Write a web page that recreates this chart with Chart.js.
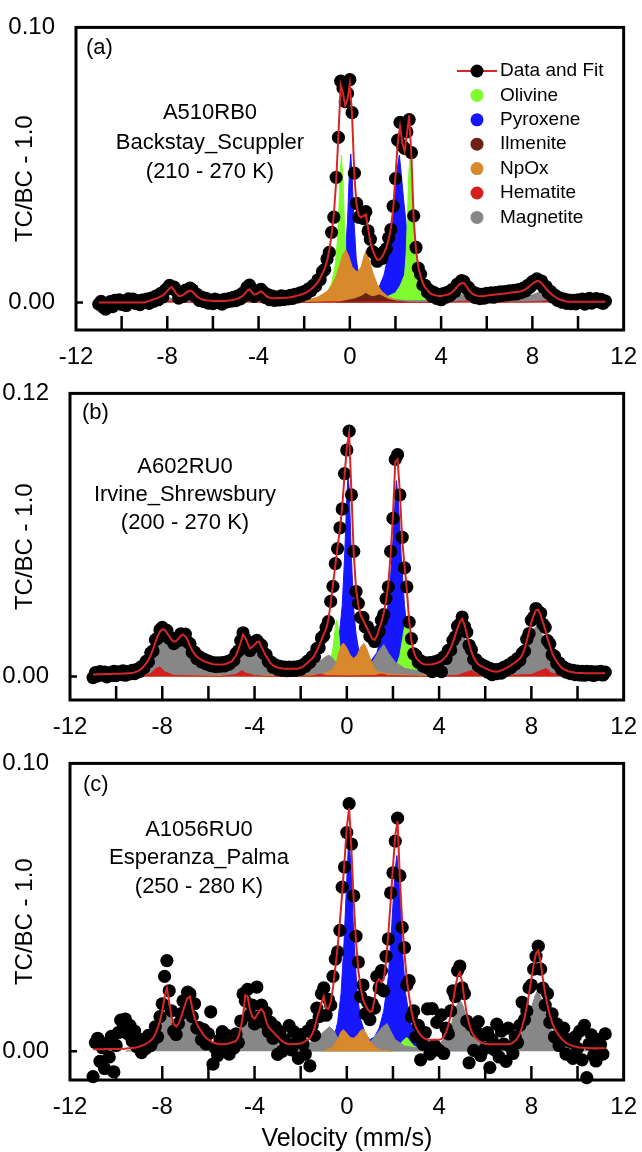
<!DOCTYPE html>
<html>
<head>
<meta charset="utf-8">
<title>Mossbauer spectra</title>
<script src="https://cdn.jsdelivr.net/npm/chart.js@4.4.1/dist/chart.umd.min.js"></script>
<style>
  body { margin: 0; background: #fff; }
  .panel { position: absolute; left: 0; width: 642px; }
</style>
</head>
<body>
<div class="panel" style="top:0;height:366px"><canvas id="panelA"></canvas></div>
<div class="panel" style="top:366px;height:370px"><canvas id="panelB"></canvas></div>
<div class="panel" style="top:736px;height:416px"><canvas id="panelC"></canvas></div>
<script>
// velocity channels (mm/s), shared by the three spectra
const velocity = [
  -11.0,-10.9,-10.8,-10.7,-10.6,-10.5,-10.4,-10.3,-10.2,-10.1,
  -10.0,-9.9,-9.8,-9.7,-9.6,-9.5,-9.4,-9.3,-9.2,-9.1,
  -9.0,-8.9,-8.8,-8.7,-8.6,-8.5,-8.4,-8.3,-8.2,-8.1,
  -8.0,-7.9,-7.8,-7.7,-7.6,-7.5,-7.4,-7.3,-7.2,-7.1,
  -7.0,-6.9,-6.8,-6.7,-6.6,-6.5,-6.4,-6.3,-6.2,-6.1,
  -6.0,-5.9,-5.8,-5.7,-5.6,-5.5,-5.4,-5.3,-5.2,-5.1,
  -5.0,-4.9,-4.8,-4.7,-4.6,-4.5,-4.4,-4.3,-4.2,-4.1,
  -4.0,-3.9,-3.8,-3.7,-3.6,-3.5,-3.4,-3.3,-3.2,-3.1,
  -3.0,-2.9,-2.8,-2.7,-2.6,-2.5,-2.4,-2.3,-2.2,-2.1,
  -2.0,-1.9,-1.8,-1.7,-1.6,-1.5,-1.4,-1.3,-1.2,-1.1,
  -1.0,-0.9,-0.8,-0.7,-0.6,-0.5,-0.4,-0.3,-0.2,-0.1,
  0.0,0.1,0.2,0.3,0.4,0.5,0.6,0.7,0.8,0.9,
  1.0,1.1,1.2,1.3,1.4,1.5,1.6,1.7,1.8,1.9,
  2.0,2.1,2.2,2.3,2.4,2.5,2.6,2.7,2.8,2.9,
  3.0,3.1,3.2,3.3,3.4,3.5,3.6,3.7,3.8,3.9,
  4.0,4.1,4.2,4.3,4.4,4.5,4.6,4.7,4.8,4.9,
  5.0,5.1,5.2,5.3,5.4,5.5,5.6,5.7,5.8,5.9,
  6.0,6.1,6.2,6.3,6.4,6.5,6.6,6.7,6.8,6.9,
  7.0,7.1,7.2,7.3,7.4,7.5,7.6,7.7,7.8,7.9,
  8.0,8.1,8.2,8.3,8.4,8.5,8.6,8.7,8.8,8.9,
  9.0,9.1,9.2,9.3,9.4,9.5,9.6,9.7,9.8,9.9,
  10.0,10.1,10.2,10.3,10.4,10.5,10.6,10.7,10.8,10.9,
  11.0,11.1,11.2
];

const xTicks = [-12, -8, -4, 0, 4, 8, 12];
const minorTicks = [-10, -8, -6, -4, -2, 0, 2, 4, 6, 8, 10];
const yTicksA = [0, 0.10];
const yTicksB = [0, 0.12];
const yTicksC = [0, 0.10];

const legendNames = ['Data and Fit', 'Olivine', 'Pyroxene', 'Ilmenite', 'NpOx', 'Hematite', 'Magnetite'];
const notesA = ['A510RB0', 'Backstay_Scuppler', '(210 - 270 K)'];
const notesB = ['A602RU0', 'Irvine_Shrewsbury', '(200 - 270 K)'];
const notesC = ['A1056RU0', 'Esperanza_Palma', '(250 - 280 K)'];

// ---- (a) A510RB0 ----
const countsA = [
  -0.0006,0.0004,-0.0018,-0.0024,-0.0009,0.0003,-0.0015,0.0008,-0.0004,0.0010,
  -0.0007,0.0002,-0.0011,0.0013,0.0001,0.0012,-0.0003,0.0006,-0.0008,0.0009,
  0.0004,0.0012,-0.0003,0.0016,0.0004,0.0023,0.0010,0.0032,0.0020,0.0044,
  0.0051,0.0062,0.0050,0.0056,0.0042,0.0016,0.0033,0.0022,0.0045,0.0033,
  0.0052,0.0046,0.0024,0.0030,0.0008,0.0020,0.0003,0.0015,-0.0002,0.0009,
  -0.0004,0.0012,0.0000,0.0008,-0.0006,0.0011,0.0002,0.0014,0.0005,0.0019,
  0.0007,0.0024,0.0013,0.0034,0.0026,0.0056,0.0063,0.0046,0.0022,0.0039,
  0.0030,0.0048,0.0039,0.0018,0.0029,0.0010,0.0023,0.0008,0.0020,0.0009,
  0.0024,0.0011,0.0022,0.0013,0.0026,0.0015,0.0030,0.0020,0.0034,0.0026,
  0.0040,0.0032,0.0050,0.0043,0.0062,0.0060,0.0082,0.0083,0.0112,0.0120,
  0.0158,0.0182,0.0255,0.0310,0.0455,0.0600,0.0805,0.0780,0.0730,0.0760,
  0.0810,0.0690,0.0470,0.0360,0.0310,0.0320,0.0305,0.0330,0.0260,0.0230,
  0.0185,0.0178,0.0150,0.0162,0.0160,0.0185,0.0195,0.0235,0.0265,0.0350,
  0.0450,0.0590,0.0655,0.0570,0.0560,0.0620,0.0665,0.0545,0.0315,0.0200,
  0.0125,0.0103,0.0064,0.0062,0.0038,0.0044,0.0022,0.0036,0.0015,0.0029,
  0.0010,0.0032,0.0019,0.0038,0.0026,0.0048,0.0040,0.0066,0.0060,0.0080,
  0.0076,0.0052,0.0055,0.0029,0.0038,0.0018,0.0031,0.0014,0.0030,0.0016,
  0.0033,0.0020,0.0035,0.0019,0.0036,0.0024,0.0039,0.0026,0.0040,0.0028,
  0.0042,0.0030,0.0044,0.0031,0.0047,0.0036,0.0052,0.0042,0.0062,0.0056,
  0.0076,0.0070,0.0086,0.0072,0.0078,0.0054,0.0058,0.0034,0.0040,0.0020,
  0.0026,0.0008,0.0017,0.0001,0.0012,-0.0003,0.0009,-0.0004,0.0008,-0.0005,
  0.0010,0.0000,0.0012,-0.0006,0.0007,0.0015,-0.0002,0.0009,0.0014,0.0002,
  0.0011,-0.0003,0.0005
];
const fitA = [
  0,0,0,0,0,0,0,0,0,0,
  0,0,0,0,0,0,0,0,0,0,
  0,0.0003,0.0005,0.0008,0.0012,0.0014,0.0017,0.0021,0.0026,0.0033,
  0.0042,0.0052,0.0056,0.0045,0.0031,0.0024,0.0024,0.0028,0.0034,0.0040,
  0.0043,0.0040,0.0031,0.0022,0.0016,0.0012,0.0010,0.0008,0.0007,0.0006,
  0.0005,0.0005,0.0005,0.0005,0.0005,0.0005,0.0006,0.0007,0.0008,0.0010,
  0.0012,0.0015,0.0019,0.0024,0.0032,0.0043,0.0048,0.0038,0.0029,0.0030,
  0.0036,0.0040,0.0035,0.0026,0.0020,0.0017,0.0015,0.0015,0.0015,0.0016,
  0.0016,0.0017,0.0017,0.0018,0.0019,0.0021,0.0023,0.0025,0.0027,0.0030,
  0.0033,0.0037,0.0042,0.0048,0.0055,0.0064,0.0075,0.0088,0.0105,0.0125,
  0.0150,0.0190,0.0245,0.0320,0.0440,0.0610,0.0790,0.0760,0.0715,0.0740,
  0.0795,0.0680,0.0460,0.0350,0.0315,0.0310,0.0315,0.0320,0.0270,0.0220,
  0.0190,0.0170,0.0155,0.0155,0.0165,0.0180,0.0200,0.0230,0.0270,0.0340,
  0.0460,0.0580,0.0640,0.0580,0.0550,0.0610,0.0680,0.0530,0.0300,0.0190,
  0.0130,0.0095,0.0070,0.0055,0.0045,0.0035,0.0030,0.0027,0.0025,0.0024,
  0.0024,0.0025,0.0027,0.0029,0.0033,0.0039,0.0047,0.0057,0.0066,0.0071,
  0.0070,0.0060,0.0047,0.0037,0.0030,0.0026,0.0024,0.0023,0.0023,0.0024,
  0.0025,0.0026,0.0027,0.0028,0.0029,0.0030,0.0031,0.0032,0.0033,0.0034,
  0.0035,0.0036,0.0037,0.0038,0.0039,0.0041,0.0044,0.0048,0.0054,0.0061,
  0.0068,0.0074,0.0078,0.0077,0.0070,0.0060,0.0050,0.0041,0.0033,0.0026,
  0.0020,0.0015,0.0011,0.0008,0.0006,0.0004,0.0003,0.0003,0.0003,0.0003,
  0.0003,0.0003,0.0003,0.0003,0.0003,0.0003,0.0003,0.0003,0.0003,0.0003,
  0.0003,0.0003,0.0003
];
const olivineA = [[-2.0,0],[-1.4,0.0015],[-1.0,0.0035],[-0.8,0.007],[-0.65,0.013],[-0.55,0.022],[-0.48,0.034],[-0.42,0.047],[-0.37,0.0535],[-0.3,0.045],[-0.24,0.030],[-0.16,0.016],[-0.05,0.009],[0.3,0.004],[0.8,0.002],[1.6,0.002],[2.0,0.0035],[2.2,0.006],[2.4,0.010],[2.47,0.018],[2.53,0.033],[2.59,0.048],[2.64,0.0525],[2.7,0.047],[2.77,0.034],[2.85,0.020],[2.95,0.012],[3.1,0.006],[3.6,0.002],[4.5,0]];
const pyroxeneA = [[-1.2,0],[-0.7,0.003],[-0.45,0.006],[-0.3,0.010],[-0.2,0.016],[-0.1,0.030],[-0.02,0.047],[0.04,0.054],[0.1,0.046],[0.18,0.030],[0.28,0.016],[0.4,0.009],[0.6,0.005],[1.0,0.004],[1.3,0.006],[1.5,0.010],[1.7,0.018],[1.85,0.028],[2.0,0.041],[2.1,0.050],[2.17,0.0536],[2.25,0.047],[2.35,0.038],[2.5,0.026],[2.65,0.016],[2.8,0.009],[3.0,0.005],[3.3,0.002],[3.8,0]];
const ilmeniteA = [[-0.6,0],[-0.2,0.0006],[0.2,0.0013],[0.5,0.0022],[0.7,0.0033],[0.85,0.0025],[1.0,0.0021],[1.15,0.0024],[1.3,0.0028],[1.45,0.0022],[1.7,0.0011],[2.1,0.0004],[2.6,0]];
const npoxA = [[-2.2,0],[-1.4,0.002],[-1.0,0.004],[-0.8,0.006],[-0.6,0.0095],[-0.45,0.0135],[-0.3,0.0175],[-0.17,0.019],[-0.05,0.017],[0.1,0.013],[0.25,0.0115],[0.35,0.0112],[0.5,0.013],[0.62,0.0168],[0.72,0.019],[0.85,0.0155],[1.0,0.011],[1.2,0.0065],[1.4,0.004],[1.7,0.002],[2.3,0]];
const hematiteA = [[-9.0,0],[-8.4,0.0003],[-8.1,0.0006],[-7.8,0.0004],[-7.3,0.0002],[-6.6,0],[-5.0,0],[-4.7,0.0003],[-4.4,0.0005],[-4.1,0.0002],[-3.5,0],[-1.5,0.0001],[-0.9,0.0003],[0,0.0001],[1.5,0.0003],[3.0,0],[4.6,0.0002],[5.1,0.0005],[5.6,0.0002],[6.5,0],[8.1,0.0003],[8.6,0.0006],[9.1,0.0002],[9.8,0]];
const magnetiteA = [[-9.2,0],[-8.5,0.0003],[-8.15,0.0010],[-7.9,0.0017],[-7.7,0.0011],[-7.45,0.0006],[-7.15,0.0011],[-7.0,0.0013],[-6.8,0.0007],[-6.3,0.0002],[-5.2,0.0002],[-4.7,0.0008],[-4.45,0.0017],[-4.25,0.0009],[-4.05,0.0008],[-3.9,0.0012],[-3.7,0.0007],[-3.0,0.0004],[-2.0,0.0006],[-1.4,0.0012],[-1.0,0.0018],[-0.75,0.0022],[-0.5,0.0016],[0.0,0.0010],[0.8,0.0010],[1.35,0.0016],[1.6,0.0019],[1.9,0.0012],[2.6,0.0006],[3.6,0.0008],[4.5,0.0015],[4.85,0.0028],[5.0,0.0032],[5.2,0.0019],[5.6,0.0009],[6.5,0.0008],[7.5,0.0014],[8.0,0.0028],[8.25,0.0036],[8.5,0.0025],[8.9,0.0010],[9.5,0.0002],[10.0,0]];

// ---- (b) A602RU0 ----
const countsB = [
  -0.0005,0.0016,0.0002,0.0020,0.0006,0.0018,-0.0002,0.0015,0.0004,0.0022,
  0.0003,0.0019,0.0008,0.0024,0.0005,0.0020,0.0011,0.0026,0.0012,0.0030,
  0.0020,0.0042,0.0036,0.0064,0.0062,0.0100,0.0108,0.0155,0.0162,0.0198,
  0.0208,0.0190,0.0195,0.0162,0.0163,0.0139,0.0158,0.0152,0.0180,0.0170,
  0.0179,0.0146,0.0138,0.0102,0.0103,0.0076,0.0084,0.0062,0.0073,0.0053,
  0.0065,0.0046,0.0059,0.0042,0.0058,0.0043,0.0059,0.0045,0.0062,0.0052,
  0.0070,0.0068,0.0098,0.0108,0.0152,0.0185,0.0158,0.0148,0.0110,0.0133,
  0.0128,0.0153,0.0140,0.0132,0.0098,0.0092,0.0063,0.0062,0.0039,0.0049,
  0.0030,0.0043,0.0026,0.0040,0.0024,0.0039,0.0025,0.0040,0.0026,0.0042,
  0.0030,0.0049,0.0043,0.0065,0.0060,0.0084,0.0083,0.0118,0.0122,0.0163,
  0.0172,0.0208,0.0232,0.0318,0.0382,0.0478,0.0542,0.0630,0.0710,0.0860,
  0.0960,0.1040,0.0770,0.0530,0.0360,0.0310,0.0250,0.0250,0.0210,0.0210,
  0.0170,0.0168,0.0148,0.0178,0.0192,0.0238,0.0262,0.0330,0.0380,0.0530,
  0.0670,0.0920,0.0940,0.0770,0.0590,0.0460,0.0380,0.0230,0.0160,0.0096,
  0.0088,0.0060,0.0066,0.0044,0.0058,0.0036,0.0059,0.0020,0.0062,0.0046,
  0.0068,0.0020,0.0083,0.0076,0.0110,0.0112,0.0153,0.0168,0.0213,0.0222,
  0.0252,0.0212,0.0188,0.0132,0.0113,0.0072,0.0071,0.0044,0.0053,0.0031,
  0.0043,0.0018,0.0034,0.0008,0.0029,0.0012,0.0030,0.0014,0.0038,0.0026,
  0.0048,0.0036,0.0061,0.0052,0.0076,0.0068,0.0098,0.0107,0.0158,0.0182,
  0.0238,0.0252,0.0288,0.0275,0.0268,0.0222,0.0208,0.0152,0.0138,0.0092,
  0.0086,0.0055,0.0058,0.0030,0.0039,0.0018,0.0030,0.0012,0.0026,0.0008,
  0.0023,0.0006,0.0022,0.0005,0.0021,0.0007,0.0020,0.0004,0.0019,0.0009,
  0.0021,0.0006,0.0018
];
const fitB = [
  0.0008,0.0008,0.0009,0.0009,0.0009,0.0010,0.0010,0.0010,0.0010,0.0011,
  0.0011,0.0011,0.0011,0.0012,0.0012,0.0013,0.0013,0.0014,0.0017,0.0021,
  0.0026,0.0033,0.0043,0.0055,0.0070,0.0090,0.0115,0.0145,0.0170,0.0190,
  0.0200,0.0198,0.0185,0.0170,0.0155,0.0147,0.0150,0.0160,0.0172,0.0177,
  0.0170,0.0155,0.0130,0.0110,0.0095,0.0084,0.0076,0.0070,0.0065,0.0061,
  0.0058,0.0055,0.0052,0.0050,0.0050,0.0050,0.0051,0.0052,0.0055,0.0059,
  0.0063,0.0075,0.0090,0.0115,0.0145,0.0177,0.0165,0.0140,0.0118,0.0125,
  0.0135,0.0145,0.0147,0.0125,0.0105,0.0085,0.0070,0.0055,0.0047,0.0042,
  0.0038,0.0036,0.0034,0.0033,0.0032,0.0032,0.0032,0.0033,0.0033,0.0034,
  0.0037,0.0041,0.0050,0.0058,0.0067,0.0076,0.0090,0.0110,0.0130,0.0155,
  0.0180,0.0200,0.0240,0.0310,0.0390,0.0470,0.0550,0.0620,0.0720,0.0850,
  0.0970,0.1030,0.0780,0.0520,0.0370,0.0300,0.0260,0.0240,0.0220,0.0200,
  0.0180,0.0160,0.0155,0.0170,0.0200,0.0230,0.0270,0.0320,0.0390,0.0520,
  0.0680,0.0910,0.0920,0.0780,0.0580,0.0470,0.0370,0.0240,0.0150,0.0105,
  0.0080,0.0068,0.0058,0.0053,0.0050,0.0050,0.0051,0.0052,0.0054,0.0057,
  0.0060,0.0066,0.0075,0.0085,0.0100,0.0120,0.0145,0.0175,0.0205,0.0230,
  0.0244,0.0220,0.0180,0.0140,0.0105,0.0080,0.0063,0.0052,0.0045,0.0040,
  0.0035,0.0030,0.0026,0.0023,0.0021,0.0020,0.0022,0.0026,0.0030,0.0035,
  0.0040,0.0046,0.0053,0.0060,0.0068,0.0076,0.0090,0.0115,0.0150,0.0190,
  0.0230,0.0260,0.0280,0.0283,0.0260,0.0230,0.0200,0.0160,0.0130,0.0100,
  0.0078,0.0063,0.0050,0.0038,0.0031,0.0026,0.0022,0.0020,0.0018,0.0016,
  0.0015,0.0014,0.0014,0.0013,0.0013,0.0013,0.0013,0.0013,0.0013,0.0013,
  0.0013,0.0013,0.0013
];
const olivineB = [[-1.6,0],[-1.1,0.0015],[-0.9,0.003],[-0.7,0.007],[-0.6,0.012],[-0.52,0.019],[-0.45,0.024],[-0.38,0.021],[-0.3,0.013],[-0.2,0.008],[0.0,0.004],[0.5,0.002],[1.5,0.002],[2.0,0.004],[2.2,0.006],[2.3,0.009],[2.42,0.016],[2.5,0.021],[2.58,0.023],[2.66,0.020],[2.76,0.013],[2.9,0.007],[3.1,0.004],[3.5,0.002],[4.2,0]];
const pyroxeneB = [[-1.6,0],[-1.0,0.003],[-0.7,0.006],[-0.5,0.010],[-0.4,0.014],[-0.3,0.020],[-0.2,0.030],[-0.1,0.050],[0.0,0.076],[0.05,0.085],[0.1,0.080],[0.2,0.050],[0.3,0.028],[0.4,0.018],[0.5,0.012],[0.7,0.007],[1.0,0.006],[1.3,0.010],[1.5,0.017],[1.7,0.024],[1.85,0.035],[2.0,0.058],[2.1,0.076],[2.15,0.083],[2.25,0.072],[2.35,0.052],[2.5,0.030],[2.65,0.017],[2.8,0.010],[3.0,0.006],[3.3,0.003],[4.0,0.001],[5.0,0]];
const npoxB = [[-9.0,0.0003],[-2.0,0.0004],[-1.0,0.001],[-0.6,0.003],[-0.45,0.006],[-0.35,0.010],[-0.22,0.0135],[-0.13,0.014],[0.0,0.012],[0.15,0.009],[0.3,0.0076],[0.45,0.009],[0.6,0.0125],[0.74,0.014],[0.85,0.012],[1.0,0.008],[1.15,0.004],[1.3,0.002],[1.8,0.001],[3.0,0.0004],[9.0,0.0003]];
const hematiteB = [[-9.0,0],[-8.5,0.0012],[-8.25,0.0035],[-8.1,0.004],[-7.9,0.002],[-7.5,0.0005],[-7.0,0.0003],[-5.5,0],[-4.8,0.0008],[-4.55,0.0025],[-4.4,0.0015],[-4.0,0.0004],[-3.5,0],[-1.5,0.0002],[-1.15,0.0010],[-0.9,0.0004],[0,0.0002],[1.2,0.0004],[1.5,0.0010],[1.8,0.0004],[3.5,0],[4.8,0.0005],[5.2,0.0018],[5.4,0.0025],[5.6,0.0012],[6.2,0.0002],[8.0,0.0008],[8.5,0.0028],[8.65,0.0034],[8.85,0.0015],[9.3,0.0003],[10.0,0]];
const magnetiteB = [[-11.0,0],[-9.5,0.0005],[-9.0,0.0015],[-8.7,0.0035],[-8.5,0.006],[-8.3,0.010],[-8.1,0.0145],[-7.95,0.016],[-7.8,0.015],[-7.6,0.0125],[-7.45,0.012],[-7.3,0.013],[-7.1,0.014],[-6.95,0.013],[-6.8,0.010],[-6.6,0.007],[-6.3,0.0045],[-6.0,0.0035],[-5.5,0.003],[-5.0,0.004],[-4.8,0.0065],[-4.65,0.010],[-4.5,0.013],[-4.35,0.012],[-4.2,0.009],[-4.0,0.010],[-3.85,0.011],[-3.7,0.009],[-3.5,0.006],[-3.2,0.003],[-2.5,0.0018],[-2.0,0.002],[-1.5,0.004],[-1.1,0.007],[-0.9,0.0085],[-0.75,0.009],[-0.6,0.0075],[-0.4,0.005],[0,0.003],[0.6,0.003],[1.1,0.006],[1.4,0.011],[1.6,0.0135],[1.8,0.010],[2.1,0.006],[2.5,0.0035],[3.0,0.0025],[3.6,0.003],[4.2,0.005],[4.5,0.009],[4.75,0.0145],[4.95,0.018],[5.1,0.016],[5.3,0.010],[5.6,0.0045],[6.0,0.002],[6.5,0.0015],[7.0,0.0025],[7.5,0.0055],[7.8,0.0115],[8.05,0.019],[8.26,0.022],[8.45,0.018],[8.7,0.011],[9.0,0.005],[9.4,0.002],[10.0,0.0005],[11.0,0]];

// ---- (c) A1056RU0 ----
const countsC = [
  -0.0088,0.0030,0.0045,-0.0035,0.0012,-0.0060,0.0028,-0.0020,0.0052,-0.0072,
  0.0020,0.0065,0.0108,0.0082,0.0112,0.0060,0.0090,0.0035,0.0070,0.0015,
  0.0042,-0.0005,0.0030,0.0010,0.0055,0.0020,0.0038,0.0085,0.0050,0.0120,
  0.0165,0.0260,0.0315,0.0210,0.0140,0.0070,0.0058,0.0096,0.0130,0.0175,
  0.0140,0.0205,0.0199,0.0120,0.0165,0.0080,0.0082,0.0040,0.0075,0.0025,
  0.0060,0.0137,-0.0045,0.0010,-0.0015,0.0040,0.0068,0.0020,0.0055,-0.0010,
  0.0035,0.0011,0.0060,0.0030,0.0105,0.0199,0.0175,0.0215,0.0125,0.0160,
  0.0095,0.0223,0.0120,0.0160,0.0100,0.0135,0.0068,0.0100,0.0045,0.0085,
  -0.0011,0.0068,0.0000,0.0040,0.0020,0.0089,0.0005,0.0068,0.0030,-0.0025,
  0.0058,0.0025,-0.0010,0.0070,-0.0051,0.0090,0.0055,0.0150,0.0120,0.0200,
  0.0220,0.0125,0.0180,0.0160,0.0260,0.0320,0.0345,0.0420,0.0570,0.0640,
  0.0760,0.0860,0.0720,0.0540,0.0400,0.0310,0.0190,0.0230,0.0130,0.0170,
  0.0110,0.0165,0.0150,0.0260,0.0220,0.0280,0.0210,0.0330,0.0390,0.0550,
  0.0620,0.0730,0.0810,0.0610,0.0430,0.0360,0.0230,0.0245,0.0120,0.0140,
  0.0050,0.0090,-0.0030,0.0024,0.0065,0.0147,-0.0010,0.0148,0.0020,0.0100,
  0.0003,0.0126,-0.0008,0.0080,0.0060,0.0140,0.0210,0.0190,0.0280,0.0296,
  0.0220,0.0200,0.0105,-0.0040,0.0090,0.0003,0.0070,0.0103,-0.0015,0.0055,
  0.0010,0.0065,-0.0057,0.0040,0.0005,0.0094,-0.0020,0.0070,0.0025,-0.0035,
  0.0080,0.0015,-0.0008,0.0050,0.0030,0.0090,0.0170,0.0110,0.0140,0.0220,
  0.0230,0.0285,0.0330,0.0365,0.0285,0.0219,0.0160,0.0200,0.0100,0.0130,
  0.0050,0.0095,0.0020,0.0060,0.0080,-0.0010,0.0040,0.0034,-0.0025,0.0050,
  0.0010,0.0070,-0.0030,0.0090,-0.0092,0.0025,0.0057,-0.0015,-0.0034,0.0040,
  0.0023,-0.0010,0.0060
];
const fitC = [
  0.0007,0.0007,0.0007,0.0007,0.0007,0.0008,0.0008,0.0008,0.0008,0.0008,
  0.0008,0.0008,0.0009,0.0009,0.0009,0.0010,0.0010,0.0011,0.0012,0.0014,
  0.0016,0.0019,0.0022,0.0026,0.0031,0.0037,0.0045,0.0060,0.0080,0.0105,
  0.0140,0.0190,0.0220,0.0170,0.0120,0.0095,0.0086,0.0095,0.0115,0.0140,
  0.0165,0.0185,0.0190,0.0150,0.0115,0.0095,0.0080,0.0068,0.0055,0.0047,
  0.0040,0.0035,0.0030,0.0028,0.0026,0.0024,0.0024,0.0025,0.0026,0.0028,
  0.0030,0.0033,0.0036,0.0050,0.0080,0.0125,0.0195,0.0190,0.0145,0.0120,
  0.0113,0.0125,0.0140,0.0147,0.0135,0.0105,0.0085,0.0075,0.0068,0.0058,
  0.0050,0.0042,0.0035,0.0030,0.0026,0.0024,0.0024,0.0025,0.0025,0.0026,
  0.0027,0.0030,0.0035,0.0040,0.0045,0.0060,0.0080,0.0113,0.0140,0.0170,
  0.0190,0.0150,0.0147,0.0170,0.0220,0.0290,0.0360,0.0450,0.0550,0.0660,
  0.0780,0.0845,0.0700,0.0520,0.0380,0.0280,0.0220,0.0180,0.0160,0.0145,
  0.0137,0.0140,0.0180,0.0240,0.0250,0.0240,0.0250,0.0310,0.0410,0.0520,
  0.0640,0.0750,0.0800,0.0600,0.0450,0.0340,0.0250,0.0190,0.0140,0.0105,
  0.0082,0.0068,0.0056,0.0048,0.0043,0.0040,0.0040,0.0040,0.0040,0.0040,
  0.0040,0.0042,0.0050,0.0065,0.0090,0.0125,0.0170,0.0220,0.0260,0.0274,
  0.0240,0.0180,0.0130,0.0095,0.0070,0.0055,0.0045,0.0038,0.0032,0.0028,
  0.0026,0.0025,0.0024,0.0024,0.0024,0.0024,0.0024,0.0024,0.0024,0.0024,
  0.0024,0.0026,0.0030,0.0036,0.0046,0.0060,0.0085,0.0115,0.0155,0.0200,
  0.0250,0.0300,0.0340,0.0350,0.0310,0.0250,0.0200,0.0160,0.0125,0.0100,
  0.0080,0.0066,0.0054,0.0044,0.0036,0.0030,0.0025,0.0021,0.0018,0.0016,
  0.0014,0.0013,0.0012,0.0012,0.0011,0.0011,0.0010,0.0010,0.0010,0.0010,
  0.0010,0.0010,0.0010
];
const olivineC = [[-2.0,0.0002],[-1.2,0.0008],[-0.9,0.0015],[-0.7,0.0028],[-0.55,0.0042],[-0.45,0.0045],[-0.3,0.0032],[-0.1,0.0018],[0.3,0.0008],[1.2,0.0006],[2.0,0.0012],[2.3,0.0025],[2.5,0.0042],[2.6,0.0048],[2.7,0.0038],[2.9,0.0018],[3.3,0.0006],[4.0,0]];
const pyroxeneC = [[-2.5,0],[-1.5,0.0008],[-1.0,0.0015],[-0.7,0.003],[-0.55,0.005],[-0.4,0.010],[-0.25,0.020],[-0.12,0.038],[0.0,0.060],[0.09,0.075],[0.18,0.064],[0.3,0.040],[0.45,0.020],[0.6,0.011],[0.8,0.006],[1.0,0.004],[1.2,0.005],[1.4,0.008],[1.6,0.014],[1.8,0.026],[1.95,0.044],[2.08,0.062],[2.17,0.068],[2.26,0.060],[2.4,0.036],[2.55,0.020],[2.75,0.010],[3.0,0.005],[3.3,0.0025],[3.8,0.001],[5.3,0.0003],[5.6,0]];
const npoxC = [[-1.0,0],[-0.6,0.0015],[-0.4,0.004],[-0.25,0.0068],[-0.15,0.0075],[0.0,0.0062],[0.15,0.0048],[0.3,0.0045],[0.45,0.0055],[0.6,0.0072],[0.72,0.0076],[0.85,0.006],[1.0,0.0035],[1.2,0.0015],[1.5,0.0003],[2.0,0]];
const magnetiteC = [[-9.6,0],[-9.0,0.0008],[-8.6,0.0025],[-8.3,0.005],[-8.1,0.009],[-7.95,0.014],[-7.83,0.017],[-7.7,0.013],[-7.5,0.008],[-7.35,0.0075],[-7.1,0.011],[-6.92,0.0145],[-6.83,0.015],[-6.7,0.012],[-6.5,0.0075],[-6.2,0.004],[-5.8,0.0022],[-5.2,0.0022],[-4.9,0.0028],[-4.7,0.0045],[-4.55,0.0095],[-4.42,0.0155],[-4.3,0.015],[-4.15,0.010],[-4.0,0.009],[-3.8,0.011],[-3.7,0.0115],[-3.55,0.0095],[-3.35,0.006],[-3.0,0.0035],[-2.5,0.0022],[-2.0,0.002],[-1.6,0.003],[-1.3,0.0045],[-1.0,0.0068],[-0.75,0.0085],[-0.55,0.007],[-0.3,0.003],[0.0,0.0012],[0.6,0.0015],[1.0,0.003],[1.3,0.006],[1.55,0.0085],[1.75,0.0096],[1.9,0.007],[2.1,0.004],[2.5,0.0018],[3.0,0.0012],[3.5,0.0016],[4.0,0.0025],[4.3,0.005],[4.55,0.010],[4.75,0.0155],[4.9,0.018],[5.05,0.0155],[5.25,0.0095],[5.5,0.005],[5.9,0.0025],[6.5,0.0018],[7.0,0.002],[7.4,0.0038],[7.7,0.008],[7.95,0.014],[8.15,0.019],[8.26,0.021],[8.4,0.019],[8.6,0.013],[8.85,0.0075],[9.2,0.0035],[9.6,0.0015],[10.2,0.0005],[11.0,0]];

const FONT = '"Liberation Sans", Arial, Helvetica, sans-serif';
const fitColor = '#d62626';
const colors = {
  Olivine: '#7efc2c',
  Pyroxene: '#1616ff',
  Ilmenite: '#6c2314',
  NpOx: '#d8892b',
  Hematite: '#d41f1f',
  Magnetite: '#878787'
};
// lower number = drawn on top
const drawRank = { Hematite: 2, Ilmenite: 3, NpOx: 4, Magnetite: 5, Olivine: 6, Pyroxene: 7 };

// box, inward ticks, sample text and (for panel a) the legend
const framePlugin = {
  id: 'frame',
  afterDraw(chart, args, o) {
    const { ctx, chartArea: a } = chart;
    const xs = chart.scales.x, ys = chart.scales.y;
    ctx.save();
    ctx.strokeStyle = '#000';
    ctx.lineWidth = 3;
    ctx.strokeRect(a.left, a.top, a.right - a.left, a.bottom - a.top);

    ctx.lineWidth = 2.5;
    ctx.beginPath();
    minorTicks.forEach(v => {
      const px = xs.getPixelForValue(v);
      ctx.moveTo(px, a.bottom);
      ctx.lineTo(px, a.bottom - 14);
    });
    const y0 = ys.getPixelForValue(0);
    ctx.moveTo(a.left, y0);
    ctx.lineTo(a.left + 7, y0);
    ctx.stroke();

    ctx.fillStyle = '#000';
    ctx.textBaseline = 'middle';
    ctx.textAlign = 'left';
    ctx.font = `22px ${FONT}`;
    ctx.fillText(o.tag, o.tagX, o.tagY);

    ctx.textAlign = 'center';
    ctx.font = `22px ${FONT}`;
    o.notes.forEach((t, i) => ctx.fillText(t, o.noteX, o.noteY[i]));

    if (o.legend) {
      const lg = o.legend;
      ctx.font = `19px ${FONT}`;
      ctx.textAlign = 'left';
      legendNames.forEach((name, i) => {
        const ly = lg.y + i * lg.step;
        if (i === 0) {
          ctx.strokeStyle = fitColor;
          ctx.lineWidth = 2;
          ctx.beginPath();
          ctx.moveTo(lg.x - 20, ly);
          ctx.lineTo(lg.x + 20, ly);
          ctx.stroke();
          ctx.fillStyle = '#000';
        } else {
          ctx.fillStyle = colors[name];
        }
        ctx.beginPath();
        ctx.arc(lg.x, ly, 6.5, 0, Math.PI * 2);
        ctx.fill();
        ctx.fillStyle = '#000';
        ctx.fillText(name, lg.x + 23, ly);
      });
    }
    ctx.restore();
  }
};

function makeChart(id, p) {
  const datasets = [
    {
      label: 'Fit',
      data: velocity.map((v, i) => ({ x: v, y: p.fit[i] })),
      borderColor: fitColor,
      borderWidth: 2,
      pointRadius: 0,
      fill: false,
      order: 0
    },
    {
      label: 'Data',
      data: velocity.map((v, i) => ({ x: v, y: p.counts[i] })),
      showLine: false,
      pointRadius: 6.6,
      pointBackgroundColor: '#000',
      pointBorderWidth: 0,
      clip: false,
      order: 1
    }
  ];
  Object.entries(p.parts).forEach(([name, pts]) => {
    datasets.push({
      label: name,
      data: pts.map(([x, y]) => ({ x, y })),
      borderColor: colors[name],
      backgroundColor: colors[name],
      borderWidth: 1,
      pointRadius: 0,
      fill: 'origin',
      order: drawRank[name]
    });
  });

  return new Chart(document.getElementById(id), {
    type: 'line',
    data: { datasets },
    options: {
      responsive: true,
      maintainAspectRatio: false,
      animation: false,
      events: [],
      layout: { padding: { top: 21, right: p.padRight, left: 0, bottom: 0 } },
      plugins: {
        legend: { display: false },
        tooltip: { enabled: false },
        frame: p.frame
      },
      scales: {
        x: {
          type: 'linear',
          min: -12,
          max: 12,
          afterBuildTicks: s => { s.ticks = xTicks.map(v => ({ value: v })); },
          afterFit: s => { s.height = p.xHeight; },
          grid: { display: false },
          border: { display: false },
          ticks: { color: '#000', font: { family: FONT, size: 24 }, padding: 5, maxRotation: 0, autoSkip: false },
          title: {
            display: !!p.xTitle,
            text: p.xTitle || '',
            color: '#000',
            font: { family: FONT, size: 25, lineHeight: 1 },
            padding: 0
          }
        },
        y: {
          type: 'linear',
          min: -0.01,
          max: p.yMax,
          afterBuildTicks: s => { s.ticks = p.yTicks.map(v => ({ value: v })); },
          afterFit: s => { s.width = p.yWidth; },
          grid: { display: false },
          border: { display: false },
          ticks: { color: '#000', font: { family: FONT, size: 24 }, padding: 13, callback: v => v.toFixed(2) },
          title: {
            display: true,
            text: 'TC/BC - 1.0',
            color: '#000',
            font: { family: FONT, size: 24 },
            padding: { top: 11, bottom: 0 }
          }
        }
      }
    },
    plugins: [framePlugin]
  });
}

makeChart('panelA', {
  counts: countsA, fit: fitA,
  parts: { Olivine: olivineA, Pyroxene: pyroxeneA, Ilmenite: ilmeniteA, NpOx: npoxA, Hematite: hematiteA, Magnetite: magnetiteA },
  yMax: 0.10, yTicks: yTicksA, yWidth: 76, xHeight: 36, padRight: 16,
  frame: { tag: '(a)', tagX: 86, tagY: 48, notes: notesA, noteX: 210, noteY: [113, 143, 172], legend: { x: 477, y: 71, step: 24.4 } }
});

makeChart('panelB', {
  counts: countsB, fit: fitB,
  parts: { Olivine: olivineB, Pyroxene: pyroxeneB, NpOx: npoxB, Hematite: hematiteB, Magnetite: magnetiteB },
  yMax: 0.12, yTicks: yTicksB, yWidth: 70, xHeight: 36, padRight: 17,
  frame: { tag: '(b)', tagX: 82, tagY: 47, notes: notesB, noteX: 185, noteY: [101, 129, 157] }
});

makeChart('panelC', {
  counts: countsC, fit: fitC,
  parts: { Olivine: olivineC, Pyroxene: pyroxeneC, NpOx: npoxC, Magnetite: magnetiteC },
  yMax: 0.10, yTicks: yTicksC, yWidth: 70, xHeight: 72, padRight: 17,
  xTitle: 'Velocity (mm/s)',
  frame: { tag: '(c)', tagX: 83, tagY: 49, notes: notesC, noteX: 199, noteY: [94, 122, 151] }
});
</script>
</body>
</html>
